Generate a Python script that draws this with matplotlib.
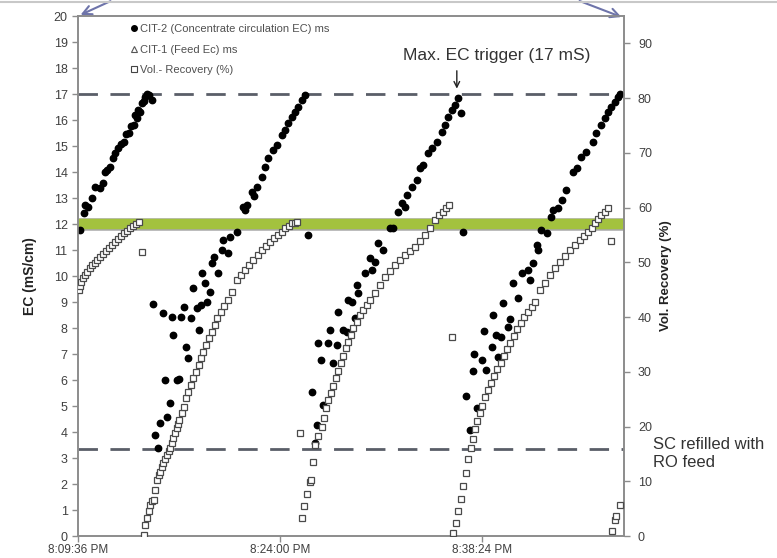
"""EC and volumetric recovery over repeated concentrate-circulation cycles."""

import matplotlib

matplotlib.use("Agg", force=True)
import matplotlib.patheffects as pe
import matplotlib.pyplot as plt
from matplotlib.lines import Line2D

plt.rcParams["font.family"] = ["Liberation Sans", "DejaVu Sans"]

# time axis: minutes after 8:09:36 PM
X_MAX = 38.96
X_TICKS = [0.0, 14.4, 28.8]
X_TICK_LABELS = ["8:09:36 PM", "8:24:00 PM", "8:38:24 PM"]

# CIT-2, concentrate circulation EC (mS/cm)
ec_time = [
    # cycle 1
    0.16, 0.40, 0.52, 0.73, 1.00, 1.23, 1.59, 1.80, 1.95, 2.09, 2.30, 2.52, 2.66, 2.87, 3.09,
    3.25, 3.44, 3.61, 3.80, 3.96, 4.08, 4.21, 4.30, 4.44, 4.58, 4.72, 4.80, 4.94, 5.03, 5.27,
    # cycle 2
    5.35, 5.51, 5.74, 5.87, 6.10, 6.22, 6.34, 6.58, 6.70, 6.81, 7.06, 7.24, 7.34, 7.53, 7.72,
    7.88, 8.05, 8.24, 8.48, 8.60, 8.79, 8.84, 9.07, 9.19, 9.43, 9.55, 9.67, 10.02, 10.26, 10.38,
    10.73, 10.86, 11.33, 11.80, 11.92, 12.05, 12.40, 12.57, 12.76, 13.11, 13.35, 13.59, 13.94,
    14.18, 14.54, 14.78, 15.01, 15.25, 15.49, 15.72, 15.97, 16.20, 16.44,
    # cycle 3
    16.68, 16.91, 17.04, 17.15, 17.34, 17.51, 17.82, 17.98, 18.22, 18.46, 18.57, 18.93, 19.17,
    19.29, 19.53, 19.76, 19.89, 20.00, 20.48, 20.83, 20.96, 21.19, 21.43, 21.78, 22.26, 22.49,
    22.85, 23.09, 23.33, 23.45, 23.81, 24.16, 24.40, 24.63, 24.99, 25.23, 25.59, 25.94, 26.18,
    26.41, 26.66, 26.89, 27.13, 27.30, 27.48,
    # cycle 4
    27.66, 27.96, 28.15, 28.25, 28.44, 28.80, 28.98, 29.10, 29.51, 29.62, 29.86, 29.98, 30.17,
    30.33, 30.69, 30.81, 31.05, 31.40, 31.65, 32.12, 32.24, 32.47, 32.72, 32.83, 33.07, 33.43,
    33.78, 33.90, 34.26, 34.50, 34.85, 35.32, 35.57, 35.92, 36.28, 36.75, 36.99, 37.35, 37.59,
    37.82, 38.06, 38.30, 38.53, 38.70,
]
ec_conc = [
    11.77, 12.41, 12.73, 12.65, 12.99, 13.43, 13.38, 13.58, 14.01, 14.08, 14.20, 14.54, 14.73,
    14.92, 15.08, 15.17, 15.46, 15.49, 15.77, 15.81, 16.19, 16.07, 16.38, 16.32, 16.65, 16.73,
    16.88, 17.00, 16.96, 16.77,
    8.92, 3.88, 3.37, 4.33, 8.57, 6.00, 4.59, 5.10, 8.43, 7.73, 6.00, 6.03, 8.43, 8.82, 7.28,
    6.83, 8.37, 9.53, 8.76, 7.92, 8.88, 10.10, 9.72, 9.01, 9.40, 10.49, 10.74, 10.10, 11.00,
    11.38, 10.87, 11.51, 11.70, 12.67, 12.54, 12.73, 13.24, 13.08, 13.43, 13.82, 14.20, 14.53,
    14.85, 15.04, 15.42, 15.62, 15.87, 16.13, 16.32, 16.51, 16.77, 16.96, 11.58,
    5.55, 3.57, 4.27, 7.41, 6.77, 5.04, 7.41, 7.92, 6.64, 7.35, 8.63, 7.92, 7.86, 9.08, 9.01,
    8.37, 9.65, 9.33, 10.10, 10.68, 10.23, 10.55, 11.26, 11.00, 11.83, 11.83, 12.47, 12.80,
    12.67, 13.12, 13.43, 13.69, 14.14, 14.27, 14.72, 14.91, 15.17, 15.55, 15.81, 16.13, 16.38,
    16.58, 16.83, 16.26, 11.70,
    5.40, 4.08, 6.36, 7.00, 4.91, 6.77, 7.90, 6.38, 7.28, 8.50, 7.73, 6.90, 7.64, 8.95, 8.05,
    8.33, 9.72, 9.14, 10.10, 10.23, 9.85, 10.49, 11.19, 11.00, 11.77, 11.64, 12.28, 12.54,
    12.60, 12.92, 13.31, 14.01, 14.14, 14.59, 14.78, 15.17, 15.49, 15.81, 16.07, 16.32, 16.51,
    16.70, 16.90, 17.00,
]

# CIT-1, feed EC (mS/cm)
feed_time = [0.0, 5.0, 10.0, 15.0, 20.0, 25.0, 30.0, 35.0, X_MAX]
feed_ec = [12.0, 12.0, 12.0, 12.0, 12.0, 12.0, 12.0, 12.0, 12.0]

# volumetric recovery (%)
rec_time = [
    # cycle 1
    0.04, 0.13, 0.24, 0.38, 0.52, 0.67, 0.85, 1.02, 1.20, 1.38, 1.59, 1.81, 2.02, 2.23, 2.45,
    2.66, 2.88, 3.09, 3.31, 3.52, 3.73, 3.95, 4.16, 4.32, 4.56,
    # cycle 2
    4.68, 4.80, 4.92, 5.05, 5.15, 5.27, 5.39, 5.51, 5.63, 5.76, 5.87, 5.99, 6.10, 6.22, 6.34,
    6.46, 6.58, 6.70, 6.81, 6.94, 7.06, 7.15, 7.24, 7.41, 7.53, 7.72, 7.88, 8.08, 8.24, 8.43,
    8.60, 8.77, 8.95, 9.14, 9.34, 9.55, 9.74, 9.95, 10.19, 10.43, 10.73, 10.99, 11.33, 11.64,
    11.92, 12.21, 12.52, 12.82, 13.11, 13.42, 13.71, 13.99, 14.30, 14.53, 14.78, 15.03, 15.25,
    15.45, 15.61, 15.84,
    # cycle 3
    15.97, 16.13, 16.32, 16.56, 16.66, 16.79, 16.91, 17.15, 17.39, 17.58, 17.68, 17.86, 18.05,
    18.22, 18.39, 18.57, 18.76, 18.93, 19.10, 19.29, 19.48, 19.64, 19.89, 20.12, 20.36, 20.60,
    20.83, 21.19, 21.55, 21.90, 22.26, 22.62, 22.97, 23.33, 23.68, 24.04, 24.40, 24.75, 25.11,
    25.47, 25.75, 26.06, 26.29, 26.46, 26.66,
    # cycle 4
    26.77, 26.96, 27.13, 27.32, 27.48, 27.66, 27.84, 28.01, 28.15, 28.32, 28.48, 28.67, 28.84,
    29.03, 29.22, 29.44, 29.67, 29.91, 30.15, 30.39, 30.62, 30.86, 31.10, 31.33, 31.58, 31.81,
    32.12, 32.36, 32.59, 32.95, 33.31, 33.66, 34.02, 34.38, 34.73, 35.09, 35.45, 35.80, 36.09,
    36.39, 36.66, 36.87, 37.12, 37.35, 37.58, 37.82, 38.01,
    # cycle 5 start
    38.13, 38.30, 38.42, 38.65,
]
recovery = [
    44.94, 45.68, 46.40, 47.13, 47.68, 48.23, 48.96, 49.51, 49.96, 50.42, 50.97, 51.61, 52.16,
    52.70, 53.25, 53.80, 54.35, 54.90, 55.35, 55.81, 56.27, 56.63, 57.09, 57.42, 51.94,
    0.18, 2.01, 3.23, 4.57, 5.66, 6.39, 6.58, 8.40, 10.23, 11.14, 11.75, 12.61, 13.28, 14.07,
    14.80, 15.53, 16.02, 16.99, 17.85, 18.82, 19.68, 20.46, 21.19, 22.42, 23.62, 25.16, 26.36,
    27.58, 28.81, 30.01, 31.24, 32.46, 33.67, 34.89, 36.12, 37.32, 38.55, 39.77, 40.98, 42.02,
    43.11, 44.57, 46.77, 47.68, 48.59, 49.51, 50.42, 51.33, 52.25, 53.07, 53.76, 54.44, 54.99,
    55.63, 56.21, 56.72, 57.12, 57.27, 57.42, 18.76,
    3.23, 5.48, 7.62, 9.92, 10.23, 13.57, 16.62, 18.27, 19.97, 21.50, 23.33, 24.84, 26.18,
    27.40, 28.81, 30.20, 31.55, 32.88, 34.29, 35.50, 36.72, 37.94, 39.15, 40.37, 41.29, 42.20,
    43.11, 44.34, 45.85, 47.37, 48.50, 49.51, 50.42, 51.33, 52.16, 52.85, 53.89, 54.99, 56.27,
    57.73, 58.65, 59.24, 59.92, 60.47, 36.41,
    0.49, 2.43, 4.57, 6.70, 9.13, 11.56, 14.01, 16.02, 17.67, 19.49, 21.06, 22.52, 23.75, 25.45,
    26.67, 27.90, 29.23, 30.45, 31.66, 32.88, 34.11, 35.31, 36.54, 37.76, 38.86, 39.95, 40.98,
    41.89, 42.80, 44.94, 46.22, 47.68, 48.96, 50.11, 51.15, 52.25, 53.16, 54.07, 54.80, 55.59,
    56.36, 57.12, 57.91, 58.64, 59.28, 59.87, 53.89,
    0.91, 2.92, 3.65, 5.66,
]

EC_TRIGGER = 17.0
EC_REFILL = 3.33
TRIGGER_TIME = 27.03

AXIS_GRAY = "#8c8c8c"
TEXT_GRAY = "#404040"
DASH_GRAY = "#5a5e68"

fig = plt.figure(figsize=(7.77, 5.58), dpi=100)
ax = fig.add_axes([0.1004, 0.0394, 0.7027, 0.9319])
ax2 = ax.twinx()

# feed EC drawn as the highlighted band (primary axis sits under the recovery axis)
ax.plot(
    feed_time, feed_ec, color="#a3c23e", lw=7.5, solid_capstyle="butt", zorder=2,
    path_effects=[pe.Stroke(linewidth=9, foreground="#a8a8a8"), pe.Normal()],
)
ax.axhline(EC_TRIGGER, color=DASH_GRAY, lw=2.0, dashes=(7, 4.5), zorder=1)
ax.axhline(EC_REFILL, color=DASH_GRAY, lw=2.0, dashes=(7, 4.5), zorder=1)
ax.plot(ec_time, ec_conc, ls="none", marker="o", ms=4.6, color="black", zorder=4)
ax2.plot(rec_time, recovery, ls="none", marker="s", ms=4.2, mfc="white", mec="#4a4a4a",
         mew=0.9, zorder=3)

ax.set_xlim(0, X_MAX)
ax.set_ylim(0, 20)
ax.set_yticks(range(0, 21))
ax.set_xticks(X_TICKS, X_TICK_LABELS)
ax2.set_ylim(0, 95)
ax2.set_yticks(range(0, 91, 10))

for a in (ax, ax2):
    for spine in a.spines.values():
        spine.set_color(AXIS_GRAY)
        spine.set_linewidth(1.2)
    a.tick_params(colors=AXIS_GRAY, labelcolor=TEXT_GRAY, length=4, width=1)
ax.tick_params(axis="y", labelsize=9)
ax.tick_params(axis="x", labelsize=8.5, pad=2)
ax2.tick_params(axis="y", labelsize=9, pad=6)

ax.set_ylabel("EC (mS/cm)", fontsize=10, fontweight="bold", color="#222222", labelpad=12)
ax2.set_ylabel("Vol. Recovery (%)", fontsize=9.5, fontweight="bold", color="#222222",
               rotation=90, labelpad=6)

handles = [
    Line2D([], [], ls="none", marker="o", ms=4, color="black"),
    Line2D([], [], ls="none", marker="^", ms=4.5, mfc="white", mec="#555555", mew=0.8),
    Line2D([], [], ls="none", marker="s", ms=3.8, mfc="white", mec="#444444", mew=0.8),
]
labels = ["CIT-2 (Concentrate circulation EC) ms", "CIT-1 (Feed Ec) ms", "Vol.- Recovery (%)"]
leg = ax.legend(handles, labels, loc="upper left", bbox_to_anchor=(0.085, 0.997), frameon=False,
                fontsize=8, handlelength=0.6, handletextpad=0.2, labelspacing=0.95,
                borderaxespad=0.2)
for t in leg.get_texts():
    t.set_color("#505050")

ax.text(29.9, 18.5, "Max. EC trigger (17 mS)", ha="center", va="center", fontsize=12.5,
        color="#333333")
ax.annotate("", xy=(TRIGGER_TIME, EC_TRIGGER + 0.1), xytext=(TRIGGER_TIME, 18.0),
            arrowprops=dict(arrowstyle="->", color="#222222", lw=1.0))
fig.text(0.8404, 0.188, "SC refilled with\nRO feed", ha="left", va="center", fontsize=12,
         color="#333333", linespacing=1.25)

# pointer arrows at the top corners of the plot
blue = "#6e74aa"
fig.add_artist(Line2D([0, 1], [0.997, 0.997], color="#c8c8c8", lw=1.5,
                      transform=fig.transFigure))
ax.annotate("", xy=(0.1004, 0.9713), xytext=(0.1454, 1.0), xycoords="figure fraction",
            textcoords="figure fraction",
            arrowprops=dict(arrowstyle="->", color=blue, lw=1.5, mutation_scale=16))
ax.annotate("", xy=(0.8031, 0.9677), xytext=(0.7426, 1.0), xycoords="figure fraction",
            textcoords="figure fraction",
            arrowprops=dict(arrowstyle="->", color=blue, lw=1.5, mutation_scale=16))

fig.savefig("out.png", dpi=100)
plt.close(fig)
